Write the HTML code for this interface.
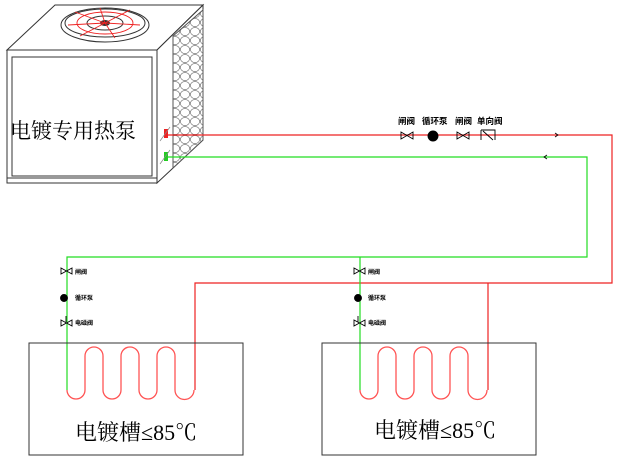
<!DOCTYPE html>
<html><head><meta charset="utf-8"><style>
body{margin:0;background:#fff}
svg{display:block}
text{font-family:"Liberation Sans","Noto Sans CJK SC",sans-serif}
.serif{font-family:"Liberation Serif","Noto Serif CJK SC",serif}
</style></head><body>
<svg width="625" height="459" viewBox="0 0 625 459" xmlns="http://www.w3.org/2000/svg">
<defs>
<pattern id="hex" width="10" height="9" patternUnits="userSpaceOnUse">
<rect width="10" height="9" fill="#fff"/>
<ellipse cx="5" cy="4.5" rx="4.6" ry="4" fill="none" stroke="#777" stroke-width="0.7"/>
</pattern>
</defs>
<polygon points="7,50 55,5 203,5 157,50" fill="#fff" stroke="#333"/>
<line x1="7" y1="55" x2="157" y2="55" stroke="#333"/>
<polygon points="157,50 203,5 203,140 157,183" fill="#fff" stroke="#333"/>
<polygon points="173,36 203,10 203,140 173,168" fill="url(#hex)" stroke="#555"/>
<rect x="7" y="50" width="150" height="133" fill="#fff" stroke="#333"/>
<rect x="12" y="57" width="140" height="119" fill="none" stroke="#333"/>
<line x1="7" y1="178" x2="157" y2="178" stroke="#333"/>
<ellipse cx="105" cy="25" rx="44" ry="17" fill="none" stroke="#333"/>
<ellipse cx="105" cy="23" rx="40" ry="14" fill="none" stroke="#333"/>
<ellipse cx="105" cy="23" rx="18" ry="7" fill="none" stroke="#333"/>
<ellipse cx="105" cy="23" rx="5" ry="3" fill="#333"/>
<g stroke="#e22" fill="none" stroke-width="0.9">
<path d="M105,23 L75,12 M105,23 L100,8 M105,23 L130,10 M105,23 L140,25 M105,23 L115,38 M105,23 L80,36 M105,23 L68,25"/>
<ellipse cx="105" cy="23" rx="28" ry="11"/>
</g>
<text class="serif" x="10" y="138" font-size="21" fill="#000">电镀专用热泵</text>
<rect x="164" y="129" width="4" height="9" fill="#e22"/>
<rect x="164" y="152" width="4" height="9" fill="#2c2"/>
<line x1="160" y1="141" x2="170" y2="127" stroke="#888" stroke-width="0.7"/>
<line x1="160" y1="164" x2="170" y2="150" stroke="#888" stroke-width="0.7"/>
<g fill="none" stroke-width="1.2">
<polyline points="168,135 612,135 612,283 195,283 195,390" stroke="#e22"/>
<polyline points="488,283 488,390" stroke="#e22"/>
<polyline points="168,157 587,157 587,257 67,257 67,390" stroke="#2d2"/>
<polyline points="360,257 360,390" stroke="#2d2"/>
</g>
<path d="M555,133 l3,2 l-3,2" stroke="#000" fill="none" stroke-width="0.8"/>
<path d="M547,155 l-3,2 l3,2" stroke="#000" fill="none" stroke-width="0.8"/>
<g fill="none" stroke="#f55" stroke-width="1.3">
<path d="M67,390 a9,9 0 0 0 18,0 V356 a9,9 0 0 1 18,0 V390 a9,9 0 0 0 18,0 V356 a9,9 0 0 1 18,0 V390 a9,9 0 0 0 18,0 V356 a9,9 0 0 1 18,0 V390 a9,9 0 0 0 19,0"/>
<path d="M360,390 a9,9 0 0 0 18,0 V356 a9,9 0 0 1 18,0 V390 a9,9 0 0 0 18,0 V356 a9,9 0 0 1 18,0 V390 a9,9 0 0 0 18,0 V356 a9,9 0 0 1 18,0 V390 a9,9 0 0 0 19,0"/>
</g>
<rect x="29" y="343" width="214" height="112" fill="none" stroke="#333"/>
<rect x="322" y="343" width="214" height="112" fill="none" stroke="#333"/>
<text class="serif" x="75" y="440" font-size="22" fill="#000">电镀槽≤85℃</text>
<text class="serif" x="374" y="438" font-size="22" fill="#000">电镀槽≤85℃</text>
<g stroke="#000" fill="none" stroke-width="0.9">
<path d="M401,132 v7 l12,-7 v7 z"/>
<circle cx="433" cy="136" r="5" fill="#000"/>
<path d="M457,132 v7 l12,-7 v7 z"/>
<path d="M481,130 v10 M481,130 h14 v10 M483,131 l10,9"/>
</g>
<text x="398" y="124" font-size="8.5" font-weight="bold">闸阀</text>
<text x="422" y="124" font-size="8.5" font-weight="bold">循环泵</text>
<text x="455" y="124" font-size="8.5" font-weight="bold">闸阀</text>
<text x="477" y="124" font-size="8.5" font-weight="bold">单向阀</text>
<g stroke="#000" fill="none" stroke-width="0.9">
<path d="M61,268 v6 l11,-6 v6 z"/>
<circle cx="64" cy="298" r="3.5" fill="#000"/>
<path d="M61,320 v6 l11,-6 v6 z M66,316 v6"/>
<path d="M354,268 v6 l11,-6 v6 z"/>
<circle cx="358" cy="298" r="3.5" fill="#000"/>
<path d="M354,320 v6 l11,-6 v6 z M358,316 v6"/>
</g>
<g font-size="6" font-weight="bold">
<text x="75" y="274">闸阀</text>
<text x="75" y="300">循环泵</text>
<text x="75" y="325">电磁阀</text>
<text x="368" y="274">闸阀</text>
<text x="368" y="300">循环泵</text>
<text x="368" y="325">电磁阀</text>
</g>
</svg>
</body></html>
